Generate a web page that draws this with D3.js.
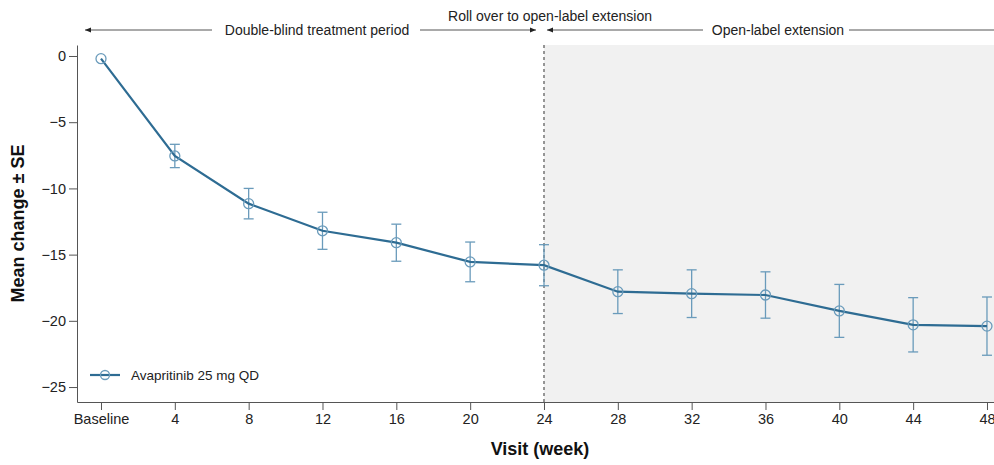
<!DOCTYPE html>
<html>
<head>
<meta charset="utf-8">
<script src="https://cdn.jsdelivr.net/npm/d3@7"></script>
<style>
  body { margin: 0; background: #fff; }
  svg { display: block; font-family: "Liberation Sans", Arial, sans-serif; }
  .axis path, .axis line { stroke: #555; }
  .axis text { fill: #222; font-size: 14.5px; }
</style>
</head>
<body>
<div id="chart"></div>
<script>
// Visit weeks and labels
const weeks = [0, 4, 8, 12, 16, 20, 24, 28, 32, 36, 40, 44, 48];
const weekLabels = ["Baseline", "4", "8", "12", "16", "20", "24", "28", "32", "36", "40", "44", "48"];
// Mean change and SE per visit
const meanChange = [-0.2, -7.55, -11.15, -13.2, -14.1, -15.55, -15.8, -17.8, -17.95, -18.05, -19.25, -20.3, -20.4];
const seValues = [0, 0.88, 1.15, 1.4, 1.4, 1.5, 1.55, 1.65, 1.8, 1.75, 2.0, 2.05, 2.2];
const yTicks = [0, -5, -10, -15, -20, -25];
const seriesName = "Avapritinib 25 mg QD";
const rolloverWeek = 24;

const width = 994, height = 465;
const margin = { top: 45, right: 0, bottom: 63, left: 77 };

const lineColor = "#2e6c93";
const markColor = "#6a9bbb";

const svg = d3.select("#chart").append("svg")
    .attr("width", width)
    .attr("height", height);

const x = d3.scaleLinear()
    .domain([-1.3, 48.38])
    .range([margin.left, width - margin.right]);

const y = d3.scaleLinear()
    .domain([0.83, -26.13])
    .range([margin.top, height - margin.bottom]);

const data = weeks.map((w, i) => ({ week: w, mean: meanChange[i], se: seValues[i] }));

// Open-label shaded area
svg.append("rect")
    .attr("x", x(rolloverWeek))
    .attr("y", margin.top)
    .attr("width", width - margin.right - x(rolloverWeek))
    .attr("height", height - margin.bottom - margin.top)
    .attr("fill", "#f1f1f1");

// Dashed rollover line
svg.append("line")
    .attr("x1", x(rolloverWeek)).attr("x2", x(rolloverWeek))
    .attr("y1", margin.top).attr("y2", height - margin.bottom)
    .attr("stroke", "#333")
    .attr("stroke-width", 1)
    .attr("stroke-dasharray", "3,3");

// Axes
svg.append("g")
    .attr("class", "x axis")
    .attr("transform", `translate(0,${height - margin.bottom})`)
    .call(d3.axisBottom(x)
        .tickValues(weeks)
        .tickFormat((d, i) => weekLabels[i])
        .tickSize(8)
        .tickSizeOuter(0)
        .tickPadding(4));

svg.append("g")
    .attr("class", "y axis")
    .attr("transform", `translate(${margin.left},0)`)
    .call(d3.axisLeft(y)
        .tickValues(yTicks)
        .tickFormat(d => d === 0 ? "0" : "\u2212" + Math.abs(d))
        .tickSize(8)
        .tickSizeOuter(0)
        .tickPadding(3));

// Axis titles
svg.append("text")
    .attr("x", 540)
    .attr("y", 455)
    .attr("text-anchor", "middle")
    .attr("font-size", 18)
    .attr("font-weight", "bold")
    .attr("fill", "#111")
    .text("Visit (week)");

svg.append("text")
    .attr("transform", `translate(24,${(margin.top + height - margin.bottom) / 2}) rotate(-90)`)
    .attr("text-anchor", "middle")
    .attr("font-size", 18)
    .attr("font-weight", "bold")
    .attr("fill", "#111")
    .text("Mean change \u00b1 SE");

// Error bars
const eb = svg.append("g")
    .attr("stroke", markColor)
    .attr("stroke-width", 1.3);

data.filter(d => d.se > 0).forEach(d => {
    const cx = x(d.week);
    eb.append("line")
        .attr("x1", cx).attr("x2", cx)
        .attr("y1", y(d.mean + d.se)).attr("y2", y(d.mean - d.se));
    [d.mean + d.se, d.mean - d.se].forEach(v => {
        eb.append("line")
            .attr("x1", cx - 5).attr("x2", cx + 5)
            .attr("y1", y(v)).attr("y2", y(v));
    });
});

// Line
const line = d3.line()
    .x(d => x(d.week))
    .y(d => y(d.mean));

svg.append("path")
    .datum(data)
    .attr("fill", "none")
    .attr("stroke", lineColor)
    .attr("stroke-width", 2.2)
    .attr("d", line);

// Markers
svg.selectAll(".pt")
    .data(data)
    .enter().append("circle")
    .attr("class", "pt")
    .attr("cx", d => x(d.week))
    .attr("cy", d => y(d.mean))
    .attr("r", 5)
    .attr("fill", "none")
    .attr("stroke", markColor)
    .attr("stroke-width", 1.3);

// Legend
const lg = svg.append("g").attr("transform", "translate(90,375)");
lg.append("line")
    .attr("x1", 0).attr("x2", 30)
    .attr("stroke", lineColor)
    .attr("stroke-width", 2.2);
lg.append("circle")
    .attr("cx", 15).attr("r", 4.5)
    .attr("fill", "none")
    .attr("stroke", markColor)
    .attr("stroke-width", 1.3);
lg.append("text")
    .attr("x", 41).attr("dy", "0.35em")
    .attr("font-size", 13.5)
    .attr("fill", "#222")
    .text(seriesName);

// Period header
const hy = 30;
const header = svg.append("g")
    .attr("stroke", "#555")
    .attr("stroke-width", 1);

svg.append("defs").append("marker")
    .attr("id", "arrow")
    .attr("viewBox", "0 0 10 10")
    .attr("refX", 10).attr("refY", 5)
    .attr("markerWidth", 6).attr("markerHeight", 6)
    .attr("orient", "auto-start-reverse")
    .append("path")
    .attr("d", "M0,1L10,5L0,9Z")
    .attr("fill", "#222");

const xr = x(rolloverWeek);
const segs = [
    { x1: 85, x2: 212, start: true, end: false },
    { x1: 420, x2: xr - 8, start: false, end: true },
    { x1: xr + 3, x2: 703, start: true, end: false },
    { x1: 849, x2: 994, start: false, end: false }
];
segs.forEach(s => {
    const l = header.append("line")
        .attr("x1", s.x1).attr("x2", s.x2)
        .attr("y1", hy).attr("y2", hy);
    if (s.start) l.attr("marker-start", "url(#arrow)");
    if (s.end) l.attr("marker-end", "url(#arrow)");
});

const headerText = [
    { x: 317, y: hy + 5, t: "Double-blind treatment period" },
    { x: 778, y: hy + 5, t: "Open-label extension" },
    { x: 550, y: 21, t: "Roll over to open-label extension" }
];
headerText.forEach(h => {
    svg.append("text")
        .attr("x", h.x).attr("y", h.y)
        .attr("text-anchor", "middle")
        .attr("font-size", 14)
        .attr("fill", "#222")
        .text(h.t);
});
</script>
</body>
</html>
